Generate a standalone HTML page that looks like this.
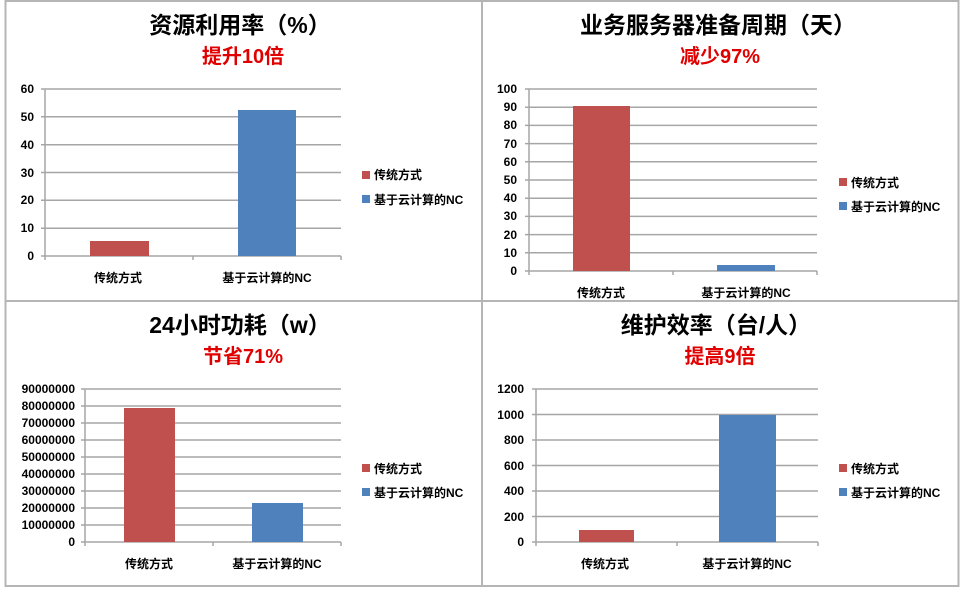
<!DOCTYPE html>
<html><head><meta charset="utf-8"><style>
html,body{margin:0;padding:0;background:#fff;}
svg{display:block;}
text{font-family:"Liberation Sans","Noto Sans CJK SC",sans-serif;font-weight:bold;}
.t{font-size:23px;fill:#000;}
.s{font-size:20px;fill:#e00000;}
.y{font-size:12px;fill:#000;text-anchor:end;}
.c{font-size:12px;fill:#000;text-anchor:middle;}
.l{font-size:12px;fill:#000;}
.g{stroke:#a6a6a6;stroke-width:1.5;}
</style></head><body>
<svg width="960" height="593" viewBox="0 0 960 593" xmlns="http://www.w3.org/2000/svg">
<rect x="0" y="0" width="960" height="593" fill="#fff"/>
<g stroke="#b5b5b5" stroke-width="2" fill="none">
<rect x="5.5" y="1" width="953" height="585"/>
<line x1="482" y1="1" x2="482" y2="586"/>
<line x1="5.5" y1="301" x2="958.5" y2="301"/>
</g>

<!-- Panel 1 -->
<text class="t" x="240" y="33" text-anchor="middle">资源利用率（%）</text>
<text class="s" x="243" y="63" text-anchor="middle">提升10倍</text>
<g class="g">
<line x1="41" y1="89" x2="341" y2="89"/><line x1="41" y1="116.8" x2="341" y2="116.8"/><line x1="41" y1="144.7" x2="341" y2="144.7"/><line x1="41" y1="172.5" x2="341" y2="172.5"/><line x1="41" y1="200.3" x2="341" y2="200.3"/><line x1="41" y1="228.2" x2="341" y2="228.2"/><line x1="41" y1="256" x2="341" y2="256"/>
<line x1="45" y1="89" x2="45" y2="260"/><line x1="193" y1="256" x2="193" y2="260"/><line x1="341" y1="256" x2="341" y2="260"/>
</g>
<text class="y" x="34" y="93">60</text><text class="y" x="34" y="121">50</text><text class="y" x="34" y="149">40</text><text class="y" x="34" y="177">30</text><text class="y" x="34" y="204">20</text><text class="y" x="34" y="232">10</text><text class="y" x="34" y="260">0</text>
<rect x="90" y="241" width="59" height="15" fill="#c0504d"/>
<rect x="238" y="110" width="58" height="146" fill="#4f81bd"/>
<text class="c" x="118" y="282">传统方式</text>
<text class="c" x="267" y="282">基于云计算的NC</text>
<rect x="362" y="171" width="8" height="8" fill="#c0504d"/><text class="l" x="374" y="179">传统方式</text>
<rect x="362" y="195" width="8" height="8" fill="#4f81bd"/><text class="l" x="374" y="204">基于云计算的NC</text>

<!-- Panel 2 -->
<text class="t" x="718" y="33" text-anchor="middle">业务服务器准备周期（天）</text>
<text class="s" x="720" y="63" text-anchor="middle">减少97%</text>
<g class="g">
<line x1="525" y1="89" x2="817" y2="89"/><line x1="525" y1="107.2" x2="817" y2="107.2"/><line x1="525" y1="125.4" x2="817" y2="125.4"/><line x1="525" y1="143.6" x2="817" y2="143.6"/><line x1="525" y1="161.8" x2="817" y2="161.8"/><line x1="525" y1="180" x2="817" y2="180"/><line x1="525" y1="198.2" x2="817" y2="198.2"/><line x1="525" y1="216.4" x2="817" y2="216.4"/><line x1="525" y1="234.6" x2="817" y2="234.6"/><line x1="525" y1="252.8" x2="817" y2="252.8"/><line x1="525" y1="271" x2="817" y2="271"/>
<line x1="529" y1="89" x2="529" y2="275"/><line x1="673" y1="271" x2="673" y2="275"/><line x1="817" y1="271" x2="817" y2="275"/>
</g>
<text class="y" x="517" y="93">100</text><text class="y" x="517" y="111">90</text><text class="y" x="517" y="129">80</text><text class="y" x="517" y="148">70</text><text class="y" x="517" y="166">60</text><text class="y" x="517" y="184">50</text><text class="y" x="517" y="202">40</text><text class="y" x="517" y="220">30</text><text class="y" x="517" y="239">20</text><text class="y" x="517" y="257">10</text><text class="y" x="517" y="275">0</text>
<rect x="573" y="106" width="57" height="165" fill="#c0504d"/>
<rect x="717" y="265" width="58" height="6" fill="#4f81bd"/>
<text class="c" x="601" y="297">传统方式</text>
<text class="c" x="746" y="297">基于云计算的NC</text>
<rect x="839" y="178" width="8" height="8" fill="#c0504d"/><text class="l" x="851" y="187">传统方式</text>
<rect x="839" y="202" width="8" height="8" fill="#4f81bd"/><text class="l" x="851" y="211">基于云计算的NC</text>

<!-- Panel 3 -->
<text class="t" x="240" y="333" text-anchor="middle">24小时功耗（w）</text>
<text class="s" x="243" y="363" text-anchor="middle">节省71%</text>
<g class="g">
<line x1="81" y1="389" x2="341" y2="389"/><line x1="81" y1="406" x2="341" y2="406"/><line x1="81" y1="423" x2="341" y2="423"/><line x1="81" y1="440" x2="341" y2="440"/><line x1="81" y1="457" x2="341" y2="457"/><line x1="81" y1="474" x2="341" y2="474"/><line x1="81" y1="491" x2="341" y2="491"/><line x1="81" y1="508" x2="341" y2="508"/><line x1="81" y1="525" x2="341" y2="525"/><line x1="81" y1="542" x2="341" y2="542"/>
<line x1="85" y1="389" x2="85" y2="546"/><line x1="213" y1="542" x2="213" y2="546"/><line x1="341" y1="542" x2="341" y2="546"/>
</g>
<text class="y" x="75" y="393">90000000</text><text class="y" x="75" y="410">80000000</text><text class="y" x="75" y="427">70000000</text><text class="y" x="75" y="444">60000000</text><text class="y" x="75" y="461">50000000</text><text class="y" x="75" y="478">40000000</text><text class="y" x="75" y="495">30000000</text><text class="y" x="75" y="512">20000000</text><text class="y" x="75" y="529">10000000</text><text class="y" x="75" y="546">0</text>
<rect x="124" y="408" width="51" height="134" fill="#c0504d"/>
<rect x="252" y="503" width="51" height="39" fill="#4f81bd"/>
<text class="c" x="149" y="568">传统方式</text>
<text class="c" x="277" y="568">基于云计算的NC</text>
<rect x="362" y="464" width="8" height="8" fill="#c0504d"/><text class="l" x="374" y="473">传统方式</text>
<rect x="362" y="488" width="8" height="8" fill="#4f81bd"/><text class="l" x="374" y="497">基于云计算的NC</text>

<!-- Panel 4 -->
<text class="t" x="716" y="333" text-anchor="middle">维护效率（台/人）</text>
<text class="s" x="720" y="363" text-anchor="middle">提高9倍</text>
<g class="g">
<line x1="532" y1="389" x2="818" y2="389"/><line x1="532" y1="414.5" x2="818" y2="414.5"/><line x1="532" y1="440" x2="818" y2="440"/><line x1="532" y1="465.5" x2="818" y2="465.5"/><line x1="532" y1="491" x2="818" y2="491"/><line x1="532" y1="516.5" x2="818" y2="516.5"/><line x1="532" y1="542" x2="818" y2="542"/>
<line x1="536" y1="389" x2="536" y2="546"/><line x1="677" y1="542" x2="677" y2="546"/><line x1="818" y1="542" x2="818" y2="546"/>
</g>
<text class="y" x="524" y="393">1200</text><text class="y" x="524" y="419">1000</text><text class="y" x="524" y="444">800</text><text class="y" x="524" y="470">600</text><text class="y" x="524" y="495">400</text><text class="y" x="524" y="521">200</text><text class="y" x="524" y="546">0</text>
<rect x="579" y="530" width="55" height="12" fill="#c0504d"/>
<rect x="719" y="415" width="57" height="127" fill="#4f81bd"/>
<text class="c" x="605" y="568">传统方式</text>
<text class="c" x="747" y="568">基于云计算的NC</text>
<rect x="839" y="464" width="8" height="8" fill="#c0504d"/><text class="l" x="851" y="473">传统方式</text>
<rect x="839" y="488" width="8" height="8" fill="#4f81bd"/><text class="l" x="851" y="497">基于云计算的NC</text>
</svg>
</body></html>
